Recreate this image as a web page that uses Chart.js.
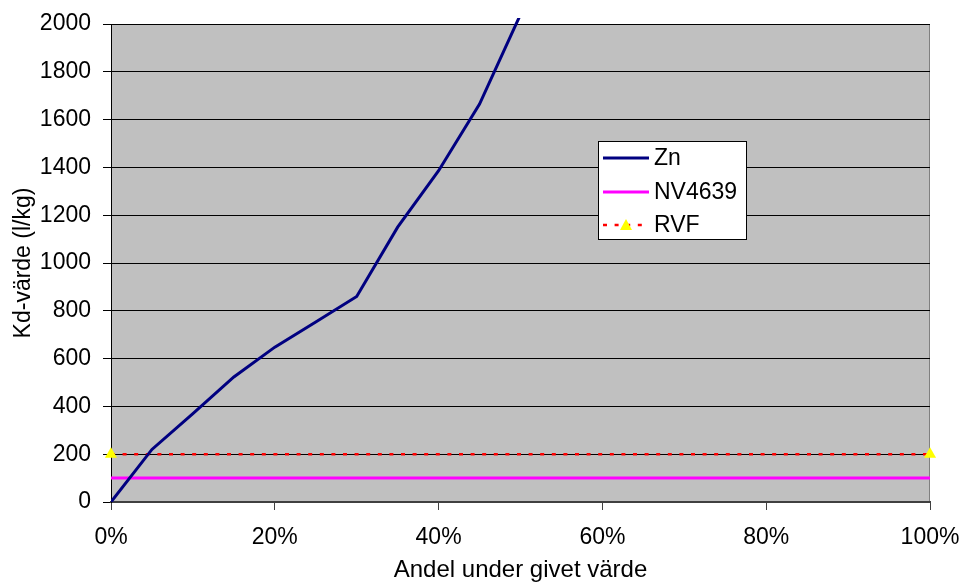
<!DOCTYPE html>
<html>
<head>
<meta charset="utf-8">
<script src="https://cdn.jsdelivr.net/npm/chart.js@4.4.1/dist/chart.umd.min.js"></script>
<style>
  html, body { margin: 0; padding: 0; background: #fff; }
  #wrap { width: 965px; height: 585px; }
</style>
</head>
<body>
<div id="wrap"><canvas id="chart1" width="965" height="585"></canvas></div>
<script>
  "use strict";

  // data
  var znShare = [0, 0.05, 0.10, 0.15, 0.20, 0.25, 0.30, 0.35, 0.40, 0.45, 0.50];
  var znKd = [0, 220, 370, 523, 648, 753, 860, 1150, 1386, 1665, 2040];
  var limitShare = [0, 1];
  var nvKd = [100, 100];
  var rvfKd = [200, 200];
  var legendLabels = ['Zn', 'NV4639', 'RVF'];

  function pts(xs, ys) {
    return xs.map(function(x, i) { return { x: x, y: ys[i] }; });
  }

  var font = '"Liberation Sans", Arial, sans-serif';

  // grey plot area like the old excel chart
  var plotBg = {
    id: 'plotBg',
    beforeDraw: function(chart) {
      var a = chart.chartArea, c = chart.ctx;
      c.save();
      c.fillStyle = '#C0C0C0';
      c.fillRect(a.left, a.top, a.right - a.left, a.bottom - a.top);
      c.strokeStyle = '#808080';
      c.lineWidth = 1;
      c.strokeRect(a.left + 0.5, a.top + 0.5, a.right - a.left - 1, a.bottom - a.top);
      c.restore();
    }
  };

  // boxed legend sitting inside the plot
  var boxLegend = {
    id: 'boxLegend',
    afterDraw: function(chart) {
      var c = chart.ctx;
      var ds = chart.data.datasets;
      c.save();
      c.fillStyle = '#fff';
      c.fillRect(598, 141, 149, 99);
      c.strokeStyle = '#000';
      c.lineWidth = 1;
      c.strokeRect(598.5, 141.5, 148, 98);
      var rows = [158, 192, 225];
      c.font = '23px ' + font;
      c.textBaseline = 'middle';
      ds.forEach(function(d, i) {
        var y = rows[i];
        c.strokeStyle = d.borderColor;
        c.lineWidth = d.borderWidth;
        c.setLineDash(d.borderDash || []);
        c.beginPath();
        c.moveTo(603, y);
        c.lineTo(649, y);
        c.stroke();
        c.setLineDash([]);
        if (d.pointRadius) {
          c.fillStyle = d.pointBackgroundColor;
          c.beginPath();
          c.moveTo(626, y - 6);
          c.lineTo(632, y + 5);
          c.lineTo(620, y + 5);
          c.closePath();
          c.fill();
        }
        c.fillStyle = '#000';
        c.fillText(legendLabels[i], 654, y + 1);
      });
      c.restore();
    }
  };

  var ctx = document.getElementById('chart1').getContext('2d');

  var myChart = new Chart(ctx, {
    type: 'line',
    data: {
      datasets: [{
        label: legendLabels[0],
        data: pts(znShare, znKd),
        borderColor: '#000080',
        borderWidth: 3,
        pointRadius: 0,
        tension: 0,
        clip: { left: 0, top: 6, right: 0, bottom: 0 }
      }, {
        label: legendLabels[1],
        data: pts(limitShare, nvKd),
        borderColor: '#FF00FF',
        borderWidth: 3,
        pointRadius: 0
      }, {
        label: legendLabels[2],
        data: pts(limitShare, rvfKd),
        borderColor: '#FF0000',
        borderWidth: 2.5,
        borderDash: [4, 7.6],
        pointStyle: 'triangle',
        pointRadius: 7,
        pointBackgroundColor: '#FFFF00',
        pointBorderColor: '#FFFF00',
        pointBorderWidth: 0,
        clip: 8
      }]
    },
    options: {
      responsive: false,
      animation: false,
      layout: { padding: { left: 0, right: 35, top: 24, bottom: 0 } },
      plugins: {
        legend: { display: false },
        tooltip: { enabled: false }
      },
      scales: {
        x: {
          type: 'linear',
          min: 0,
          max: 1,
          afterFit: function(s) {
            s.height = 83;
            s.paddingLeft = 0;
            s.paddingRight = 0;
          },
          ticks: {
            stepSize: 0.2,
            color: '#000',
            padding: 14,
            font: { family: font, size: 23 },
            callback: function(v) { return Math.round(v * 100) + '%'; }
          },
          grid: {
            drawOnChartArea: false,
            tickLength: 8,
            tickColor: '#404040'
          },
          border: { color: '#404040', width: 2 },
          title: {
            display: true,
            text: 'Andel under givet värde',
            color: '#000',
            font: { family: font, size: 24 },
            padding: { top: 0, bottom: 0 }
          }
        },
        y: {
          min: 0,
          max: 2000,
          afterFit: function(s) {
            s.width = 111;
            s.paddingTop = 0;
            s.paddingBottom = 0;
          },
          ticks: {
            stepSize: 200,
            color: '#000',
            padding: 12,
            font: { family: font, size: 23 },
            callback: function(v) { return String(v); }
          },
          grid: {
            color: '#000',
            lineWidth: 1,
            tickLength: 8,
            tickColor: '#000'
          },
          border: { color: '#000', width: 1 },
          title: {
            display: true,
            text: 'Kd-värde (l/kg)',
            color: '#000',
            font: { family: font, size: 23 },
            padding: { top: 10, bottom: 0 }
          }
        }
      }
    },
    plugins: [plotBg, boxLegend]
  });
</script>
</body>
</html>
